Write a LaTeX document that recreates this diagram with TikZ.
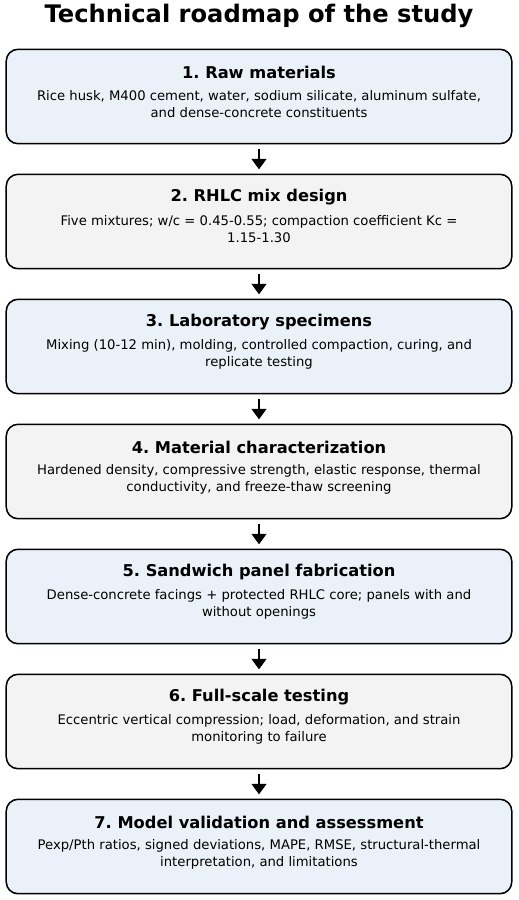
\documentclass[tikz,border=0pt]{standalone}
\usepackage{fontspec}
\setmainfont{DejaVu Sans}
\usetikzlibrary{arrows.meta}
\definecolor{stepblue}{HTML}{EAF1F8}
\definecolor{stepgray}{HTML}{F3F3F3}
\frenchspacing

\begin{document}
\begin{tikzpicture}[x = 0.72pt, y = -0.72pt,
  box/.style = {draw, line width = 1.1pt, rounded corners = 8.5pt,
    minimum width = 364pt, minimum height = 68pt},
  head/.style = {font = \fontsize{11.7}{14}\selectfont\bfseries},
  desc/.style = {font = \fontsize{9.5}{12.3}\selectfont, align = center},
  flow/.style = {line width = 1.5pt, -{Triangle[width = 10.5pt, length = 7.5pt]},
    shorten < = 3pt, shorten > = 3pt}]
  \useasboundingbox (0, 0) rectangle (519, 900);

  \node[font = \fontsize{17.4}{20}\selectfont\bfseries] (title) at (259, 16)
    {Technical roadmap of the study};

  \foreach \i/\shade/\heading/\body in {
    1/stepblue/{1. Raw materials}/{Rice husk, M400 cement, water, sodium silicate, aluminum sulfate,\\and dense-concrete constituents},
    2/stepgray/{2. RHLC mix design}/{Five mixtures; w/c = 0.45-0.55; compaction coefficient Kc =\\1.15-1.30},
    3/stepblue/{3. Laboratory specimens}/{Mixing (10-12 min), molding, controlled compaction, curing, and\\replicate testing},
    4/stepgray/{4. Material characterization}/{Hardened density, compressive strength, elastic response, thermal\\conductivity, and freeze-thaw screening},
    5/stepblue/{5. Sandwich panel fabrication}/{Dense-concrete facings + protected RHLC core; panels with and\\without openings},
    6/stepgray/{6. Full-scale testing}/{Eccentric vertical compression; load, deformation, and strain\\monitoring to failure},
    7/stepblue/{7. Model validation and assessment}/{Pexp/Pth ratios, signed deviations, MAPE, RMSE, structural-thermal\\interpretation, and limitations}} {
    \node[box, fill = \shade] (b\i) at (259, 96.5 + 125 * \i - 125) {};
    \node[head] (h\i) at (259, 72 + 125 * \i - 125) {\heading};
    \node[desc] (d\i) at (259, 104.5 + 125 * \i - 125) {\body};
  }

  % arrows between the steps
  \foreach \i [evaluate = \i as \j using int(\i + 1)] in {1, ..., 6}
    \draw[flow] (b\i) -- (b\j);
\end{tikzpicture}
\end{document}
